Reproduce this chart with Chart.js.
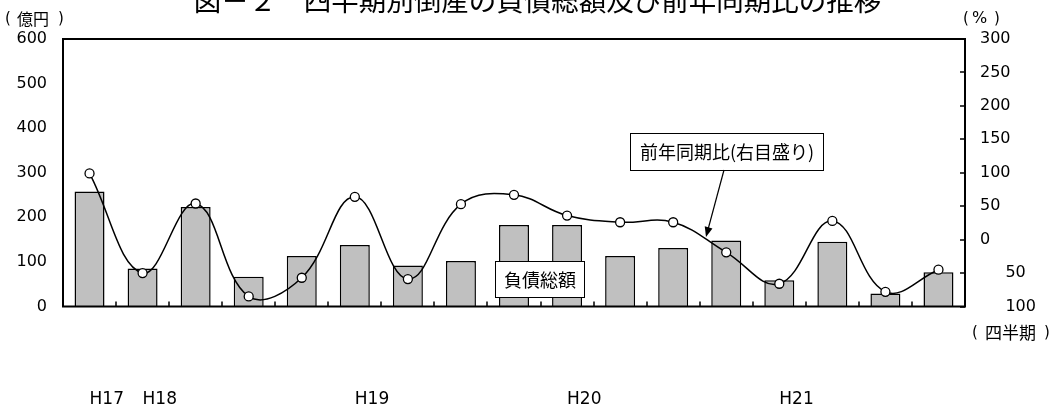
<!DOCTYPE html>
<html lang="ja">
<head>
<meta charset="utf-8">
<script src="https://cdn.jsdelivr.net/npm/chart.js@4.4.1/dist/chart.umd.min.js"></script>
<style>
  html, body { margin: 0; padding: 0; background: #fff; }
  canvas { display: block; }
</style>
</head>
<body>
<canvas id="chart" width="1050" height="408"></canvas>
<script>
// 四半期ラベル（年度の区切りのみ表示）
const quarterLabels = ['H17', 'H18', '', '', '', 'H19', '', '', '', 'H20', '', '', '', 'H21', '', '', ''];
// 負債総額（億円）
const debtTotal = [258, 85, 223, 67, 113, 138, 92, 102, 183, 183, 113, 131, 148, 59, 145, 29, 77];
// 前年同期比（%）
const yoyChange = [99, -50, 54, -85, -57, 64, -59, 53, 67, 36, 26, 26, -19, -66, 28, -78, -45];

const titleText = '図－２　四半期別倒産の負債総額及び前年同期比の推移';
const debtLabel = '負債総額';
const yoyLabel = '前年同期比(右目盛り)';

const LATIN = "'DejaVu Sans', 'Noto Sans CJK JP', sans-serif";
const CJK = "'Noto Sans CJK JP', 'DejaVu Sans', sans-serif";

function parenText(ctx, body, xOpen, xBody, xClose, y, bodyFont, parenFont) {
  ctx.textAlign = 'left';
  ctx.textBaseline = 'middle';
  ctx.font = parenFont;
  ctx.fillText('(', xOpen, y);
  ctx.fillText(')', xClose, y);
  ctx.font = bodyFont;
  ctx.fillText(body, xBody, y);
}

function callout(ctx, text, x, y, w, h, font) {
  ctx.fillStyle = '#fff';
  ctx.fillRect(x, y, w, h);
  ctx.strokeStyle = '#000';
  ctx.lineWidth = 1;
  ctx.strokeRect(x + 0.5, y + 0.5, w, h);
  ctx.fillStyle = '#000';
  ctx.font = font;
  ctx.textAlign = 'center';
  ctx.textBaseline = 'middle';
  ctx.fillText(text, x + w / 2 + 0.5, y + h / 2 + 1);
}

const decorations = {
  id: 'decorations',
  afterDraw(chart) {
    const { ctx, chartArea: a, scales } = chart;
    ctx.save();

    // 枠線
    ctx.strokeStyle = '#000';
    ctx.lineWidth = 2;
    ctx.strokeRect(a.left, a.top, a.right - a.left, a.bottom - a.top);

    // 内向きの目盛り線
    ctx.lineWidth = 1.5;
    ctx.beginPath();
    const r = scales.yRate;
    r.ticks.forEach(t => {
      const y = Math.round(r.getPixelForValue(t.value));
      ctx.moveTo(a.right - 5, y);
      ctx.lineTo(a.right, y);
    });
    const xs = scales.x;
    for (let i = 1; i < quarterLabels.length; i++) {
      const px = Math.round((xs.getPixelForValue(i - 1) + xs.getPixelForValue(i)) / 2);
      ctx.moveTo(px, a.bottom);
      ctx.lineTo(px, a.bottom - 5);
    }
    ctx.stroke();

    // 表題
    ctx.fillStyle = '#000';
    ctx.font = `27.5px ${CJK}`;
    ctx.textAlign = 'center';
    ctx.textBaseline = 'alphabetic';
    ctx.fillText(titleText, 537.5, 11);

    // 単位
    parenText(ctx, '億円', 5, 17, 58, 19, `16px ${CJK}`, `15px ${LATIN}`);
    parenText(ctx, '%', 963, 972, 994, 19, `16px ${LATIN}`, `15px ${LATIN}`);
    parenText(ctx, '四半期', 972, 985, 1044, 333, `17px ${CJK}`, `15px ${LATIN}`);

    // 系列名の囲み
    callout(ctx, debtLabel, 495, 261, 89, 36, `18px ${CJK}`);
    callout(ctx, yoyLabel, 630, 133, 193, 37, `18px ${CJK}`);

    // 矢印
    const x0 = 724, y0 = 170, x1 = 706, y1 = 237;
    const ang = Math.atan2(y1 - y0, x1 - x0);
    const head = 10, half = 4;
    ctx.strokeStyle = '#000';
    ctx.lineWidth = 1.2;
    ctx.beginPath();
    ctx.moveTo(x0, y0);
    ctx.lineTo(x1 - Math.cos(ang) * head * 0.8, y1 - Math.sin(ang) * head * 0.8);
    ctx.stroke();
    ctx.beginPath();
    ctx.moveTo(x1, y1);
    ctx.lineTo(x1 - Math.cos(ang) * head + Math.sin(ang) * half, y1 - Math.sin(ang) * head - Math.cos(ang) * half);
    ctx.lineTo(x1 - Math.cos(ang) * head - Math.sin(ang) * half, y1 - Math.sin(ang) * head + Math.cos(ang) * half);
    ctx.closePath();
    ctx.fill();

    ctx.restore();
  }
};

new Chart(document.getElementById('chart'), {
  type: 'bar',
  data: {
    labels: quarterLabels,
    datasets: [
      {
        type: 'line',
        label: '前年同期比',
        data: yoyChange,
        yAxisID: 'yRate',
        order: 0,
        borderColor: '#000',
        borderWidth: 1.5,
        tension: 0.4,
        fill: false,
        pointRadius: 4.5,
        pointBackgroundColor: '#fff',
        pointBorderColor: '#000',
        pointBorderWidth: 1.3
      },
      {
        type: 'bar',
        label: '負債総額',
        data: debtTotal,
        yAxisID: 'yAmount',
        order: 1,
        backgroundColor: '#c0c0c0',
        borderColor: '#000',
        borderWidth: 1.5,
        barPercentage: 0.565,
        categoryPercentage: 1
      }
    ]
  },
  options: {
    responsive: false,
    animation: false,
    devicePixelRatio: 1,
    layout: { padding: { top: 39, left: 0, right: 0, bottom: 0 } },
    plugins: {
      legend: { display: false },
      tooltip: { enabled: false },
      title: { display: false }
    },
    scales: {
      x: {
        type: 'category',
        offset: true,
        grid: { display: false, drawTicks: false },
        border: { display: false },
        ticks: {
          autoSkip: false,
          maxRotation: 0,
          align: 'start',
          padding: 83,
          color: '#000',
          font: { family: LATIN, size: 17 }
        },
        afterFit(scale) { scale.height = 101.5; }
      },
      yAmount: {
        position: 'left',
        min: 0,
        max: 600,
        grid: { display: false, drawTicks: false },
        border: { display: false },
        ticks: {
          stepSize: 100,
          padding: 16,
          color: '#000',
          font: { family: LATIN, size: 16 }
        },
        afterFit(scale) { scale.width = 63; }
      },
      yRate: {
        position: 'right',
        min: -100,
        max: 300,
        grid: { display: false, drawTicks: false },
        border: { display: false },
        ticks: {
          stepSize: 50,
          padding: 15,
          color: '#000',
          font: { family: LATIN, size: 16 },
          callback: v => (v < 0 ? '     ' + (-v) : String(v))
        },
        afterFit(scale) { scale.width = 85; }
      }
    }
  },
  plugins: [decorations]
});
</script>
</body>
</html>
